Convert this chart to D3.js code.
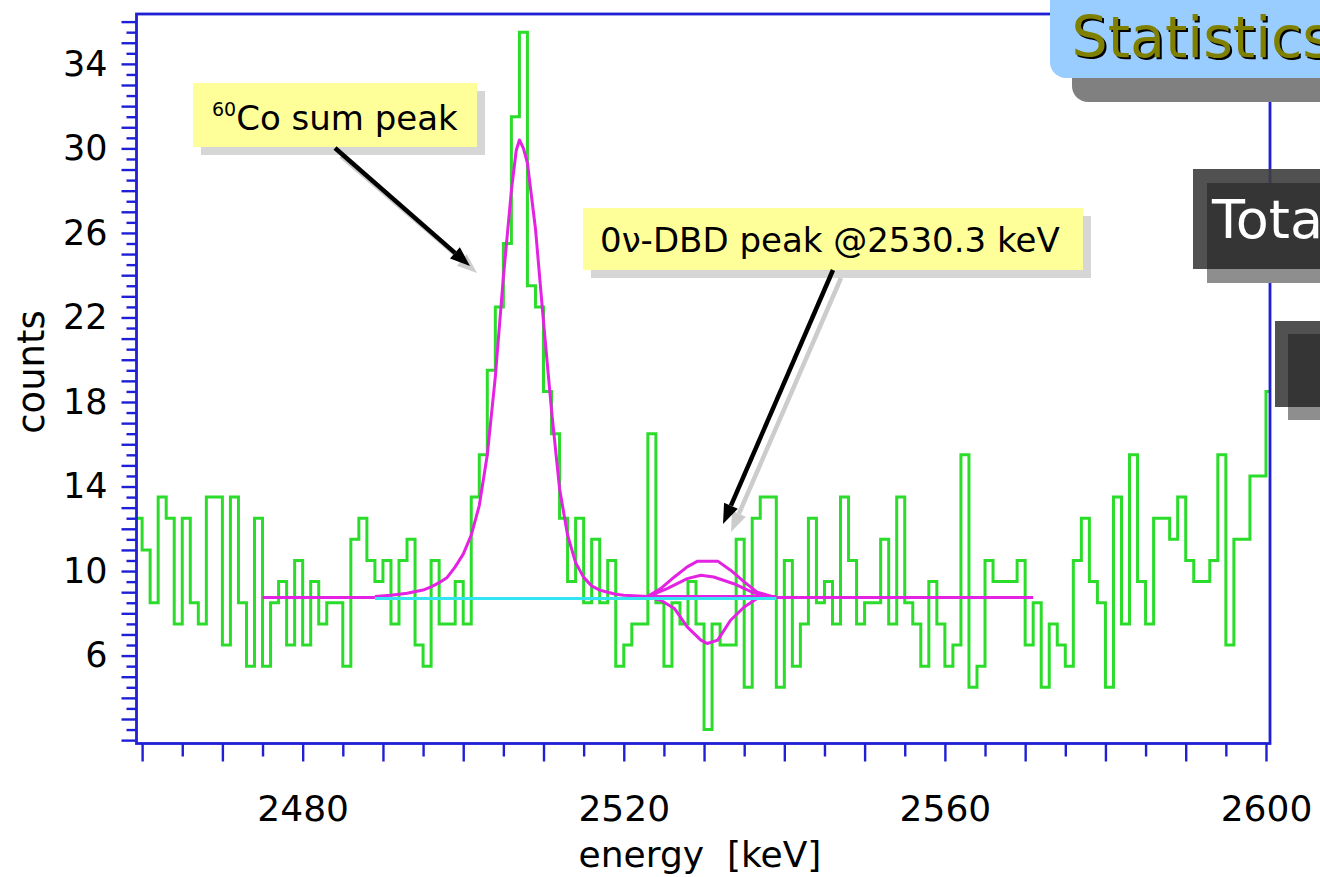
<!DOCTYPE html>
<html>
<head>
<meta charset="utf-8">
<script src="https://cdn.jsdelivr.net/npm/d3@7"></script>
<style>
  body { margin: 0; background: #ffffff; }
  svg { display: block; }
  text { font-family: "DejaVu Sans", "Noto Sans", sans-serif; }
</style>
</head>
<body>
<svg id="chart" width="1320" height="877"></svg>
<script>
// ---- spectrum: counts per 1 keV bin, first bin starts at 2459 keV ----
const binStart = 2459;
const binWidth = 1;
const counts = [
  12.5, 11, 8.5, 13.5, 12.5, 7.5, 12.5, 8.5, 7.5, 13.5,      // 2459-2468
  13.5, 6.5, 13.5, 8.5, 5.5, 12.5, 5.5, 8.5, 9.5, 6.5,       // 2469-2478
  10.5, 6.5, 9.5, 7.5, 8.5, 8.5, 5.5, 11.5, 12.5, 10.5,      // 2479-2488
  9.5, 10.5, 7.5, 10.5, 11.5, 6.5, 5.5, 10.5, 7.5, 7.5,      // 2489-2498
  9.5, 7.5, 13.5, 15.5, 19.5, 22.5, 25.5, 31.5, 35.5, 23.5,  // 2499-2508
  22.5, 18.5, 16.5, 12.5, 9.5, 12.5, 8.5, 11.5, 8.5, 10.5,   // 2509-2518
  5.5, 6.5, 7.5, 7.5, 16.5, 8.5, 5.5, 8.5, 7.5, 9.5,         // 2519-2528
  7.5, 2.5, 7.5, 6.5, 6.5, 11.5, 4.5, 12.5, 13.5, 13.5,      // 2529-2538
  4.5, 10.5, 5.5, 7.5, 12.5, 8.5, 9.5, 7.5, 13.5, 10.5,      // 2539-2548
  7.5, 8.5, 8.5, 11.5, 7.5, 13.5, 8.5, 7.5, 5.5, 9.5,        // 2549-2558
  7.5, 5.5, 6.5, 15.5, 4.5, 5.5, 10.5, 9.5, 9.5, 9.5,        // 2559-2568
  10.5, 6.5, 8.5, 4.5, 7.5, 6.5, 5.5, 10.5, 12.5, 9.5,       // 2569-2578
  8.5, 4.5, 13.5, 7.5, 15.5, 9.5, 7.5, 12.5, 12.5, 11.5,     // 2579-2588
  13.5, 10.5, 9.5, 9.5, 10.5, 15.5, 6.5, 11.5, 11.5, 14.5,   // 2589-2598
  14.5, 18.5                                                 // 2599-2600
];

// ---- fitted curves: [energy keV, counts] ----
const fitBackgroundLeft = [[2475, 8.75], [2489, 8.75]];
const fitSumPeak = [
  [2489, 8.8], [2491, 8.85], [2493, 8.95], [2495, 9.1], [2496, 9.25], [2497, 9.45],
  [2498, 9.7], [2499, 10.2], [2500, 10.8], [2501, 11.7], [2502, 13.1], [2503, 15.5],
  [2504, 19.2], [2505, 23.9], [2506, 28.0], [2506.6, 29.9], [2507, 30.4], [2507.5, 30.0],
  [2508, 29.3], [2509, 26.2], [2510, 21.8], [2511, 17.6], [2512, 13.9], [2513, 11.7],
  [2514, 10.4], [2515, 9.7], [2516, 9.3], [2517, 9.1], [2518, 9.0], [2519, 8.9],
  [2520, 8.85], [2523, 8.8], [2539, 8.8]
];
const fitBackgroundRight = [[2539, 8.75], [2571, 8.75]];
const dbdUpper = [
  [2522.9, 8.78], [2524.6, 9.17], [2526.3, 9.72], [2527.9, 10.2], [2529.2, 10.47],
  [2531.7, 10.47], [2533.3, 10.04], [2535.0, 9.49], [2536.6, 9.0], [2538.7, 8.78]
];
const dbdMiddle = [
  [2522.9, 8.78], [2525.4, 9.17], [2527.9, 9.64], [2529.6, 9.8], [2531.2, 9.72],
  [2533.7, 9.4], [2536.2, 8.97], [2538.0, 8.78]
];
const dbdLower = [
  [2522.9, 8.78], [2524.6, 8.62], [2526.3, 8.23], [2527.9, 7.36], [2529.6, 6.73],
  [2530.4, 6.57], [2531.7, 6.73], [2533.3, 7.67], [2535.0, 8.3], [2536.6, 8.7], [2538.7, 8.78]
];
const flatBackground = [[2489, 8.7], [2539, 8.7]];

// ---- axes ----
const xTicks = d3.range(2460, 2601, 5);
const xTickLabels = [2480, 2520, 2560, 2600];
const yTicks = d3.range(2, 36.01, 0.5);
const yTickLabels = [6, 10, 14, 18, 22, 26, 30, 34];

const svg = d3.select("#chart");
const W = 1320, H = 877;
const plot = { left: 136.5, right: 1270, top: 14, bottom: 743.5 };

const x = d3.scaleLinear().domain([2459.3, 2600.5]).range([plot.left, plot.right]);
const y = d3.scaleLinear().domain([1.84, 36.36]).range([plot.bottom, plot.top]);

const blue = "#1f1fd6";
const green = "#2bdc2b";
const magenta = "#e422e4";
const cyan = "#33e4f2";

svg.append("rect").attr("width", W).attr("height", H).attr("fill", "#ffffff");

svg.append("defs").append("clipPath").attr("id", "plotClip")
  .append("rect")
  .attr("x", plot.left).attr("y", plot.top)
  .attr("width", plot.right - plot.left).attr("height", plot.bottom - plot.top);

const g = svg.append("g").attr("clip-path", "url(#plotClip)");

// histogram as a step line
const histPoints = counts.map((c, i) => [binStart + i * binWidth, c]);
histPoints.push([binStart + counts.length * binWidth, counts[counts.length - 1]]);
const stepLine = d3.line().x(d => x(d[0])).y(d => y(d[1])).curve(d3.curveStepAfter);
g.append("path").attr("d", stepLine(histPoints))
  .attr("fill", "none").attr("stroke", green).attr("stroke-width", 3)
  .attr("stroke-linejoin", "miter");

// fit curves
const curve = d3.line().x(d => x(d[0])).y(d => y(d[1]));
[fitBackgroundLeft, fitSumPeak, fitBackgroundRight, dbdUpper, dbdMiddle, dbdLower].forEach(pts => {
  g.append("path").attr("d", curve(pts))
    .attr("fill", "none").attr("stroke", magenta).attr("stroke-width", 3)
    .attr("stroke-linejoin", "round");
});
g.append("path").attr("d", curve(flatBackground))
  .attr("fill", "none").attr("stroke", cyan).attr("stroke-width", 3);

// x axis
const xAxis = d3.axisBottom(x).tickValues(xTicks)
  .tickFormat(d => xTickLabels.includes(d) ? d : "")
  .tickSizeOuter(0);
const gx = svg.append("g").attr("transform", `translate(0,${plot.bottom})`).call(xAxis);
gx.select(".domain").remove();
gx.selectAll(".tick line")
  .attr("y2", d => d % 10 === 0 ? 18 : 13)
  .attr("stroke", blue).attr("stroke-width", 2.4);
gx.selectAll(".tick text")
  .attr("y", 52).attr("dy", "0.71em")
  .attr("font-size", 36).attr("fill", "#000")
  .style("font-family", "DejaVu Sans");

// y axis
const yAxis = d3.axisLeft(y).tickValues(yTicks)
  .tickFormat(d => yTickLabels.includes(d) ? d : "")
  .tickSizeOuter(0);
const gy = svg.append("g").attr("transform", `translate(${plot.left},0)`).call(yAxis);
gy.select(".domain").remove();
gy.selectAll(".tick line")
  .attr("x2", d => Number.isInteger(d) ? -15 : -10)
  .attr("stroke", blue).attr("stroke-width", 2.4);
gy.selectAll(".tick text")
  .attr("x", -29)
  .attr("font-size", 35).attr("fill", "#000")
  .style("font-family", "DejaVu Sans");

// frame
svg.append("rect")
  .attr("x", plot.left).attr("y", plot.top)
  .attr("width", plot.right - plot.left).attr("height", plot.bottom - plot.top)
  .attr("fill", "none").attr("stroke", blue).attr("stroke-width", 2.8);

// axis titles
svg.append("text").attr("x", 700).attr("y", 867)
  .attr("text-anchor", "middle").attr("font-size", 36)
  .style("white-space", "pre").text("energy  [keV]");
svg.append("text")
  .attr("transform", "translate(44,372) rotate(-90)")
  .attr("text-anchor", "middle").attr("font-size", 37).text("counts");

// ---- annotations ----
function arrow(x1, y1, x2, y2, color, width) {
  const ang = Math.atan2(y2 - y1, x2 - x1);
  const len = 20, half = 7.5;
  const bx = x2 - len * Math.cos(ang), by = y2 - len * Math.sin(ang);
  const grp = svg.append("g");
  grp.append("line").attr("x1", x1).attr("y1", y1).attr("x2", bx).attr("y2", by)
    .attr("stroke", color).attr("stroke-width", width);
  grp.append("path")
    .attr("d", `M${x2},${y2} L${bx + half * Math.sin(ang)},${by - half * Math.cos(ang)} L${bx - half * Math.sin(ang)},${by + half * Math.cos(ang)} Z`)
    .attr("fill", color);
}

// 60Co label
svg.append("rect").attr("x", 201).attr("y", 91).attr("width", 284).attr("height", 64).attr("fill", "#d6d6d6");
svg.append("rect").attr("x", 193).attr("y", 83).attr("width", 284).attr("height", 64).attr("fill", "#ffff99");
const coText = svg.append("text").attr("x", 212).attr("y", 130).attr("font-size", 34).attr("fill", "#000");
coText.append("tspan").attr("font-size", 19).attr("dy", -14).text("60");
coText.append("tspan").attr("dy", 14).text("Co sum peak");
arrow(341, 156, 477, 273, "#cccccc", 4.5);
arrow(335, 148, 470, 266, "#000000", 4.5);

// 0v-DBD label
svg.append("rect").attr("x", 591).attr("y", 216).attr("width", 500).attr("height", 62).attr("fill", "#d6d6d6");
svg.append("rect").attr("x", 583).attr("y", 208).attr("width", 500).attr("height", 62).attr("fill", "#ffff99");
svg.append("text").attr("x", 600).attr("y", 252).attr("font-size", 34).attr("fill", "#000")
  .text("0\u03bd-DBD peak @2530.3 keV");
arrow(841, 278, 731, 532, "#cccccc", 4.5);
arrow(833, 270, 723, 524, "#000000", 4.5);

// statistics panel
svg.append("rect").attr("x", 1072).attr("y", -30).attr("width", 300).attr("height", 132)
  .attr("rx", 16).attr("fill", "#808080");
svg.append("rect").attr("x", 1050).attr("y", -30).attr("width", 300).attr("height", 108)
  .attr("rx", 16).attr("fill", "#99ccff");
svg.append("text").attr("x", 1073.5).attr("y", 58.5).attr("font-size", 57).attr("fill", "#000").text("Statistics");
svg.append("text").attr("x", 1071.5).attr("y", 56.5).attr("font-size", 57).attr("fill", "#808000").text("Statistics");

svg.append("rect").attr("x", 1207).attr("y", 183).attr("width", 150).attr("height", 100).attr("fill", "#8e8e8e");
svg.append("rect").attr("x", 1193).attr("y", 169).attr("width", 150).attr("height", 100).attr("fill", "#3e3e3e").attr("fill-opacity", 0.9);
svg.append("rect").attr("x", 1207).attr("y", 183).attr("width", 150).attr("height", 86).attr("fill", "#333333").attr("fill-opacity", 0.9);
svg.append("text").attr("x", 1212).attr("y", 238).attr("font-size", 54).attr("fill", "#ffffff").text("Tota");

svg.append("rect").attr("x", 1288).attr("y", 334).attr("width", 60).attr("height", 86).attr("fill", "#8e8e8e");
svg.append("rect").attr("x", 1275).attr("y", 321).attr("width", 60).attr("height", 86).attr("fill", "#3e3e3e").attr("fill-opacity", 0.9);
svg.append("rect").attr("x", 1288).attr("y", 334).attr("width", 60).attr("height", 73).attr("fill", "#333333").attr("fill-opacity", 0.9);
</script>
</body>
</html>
